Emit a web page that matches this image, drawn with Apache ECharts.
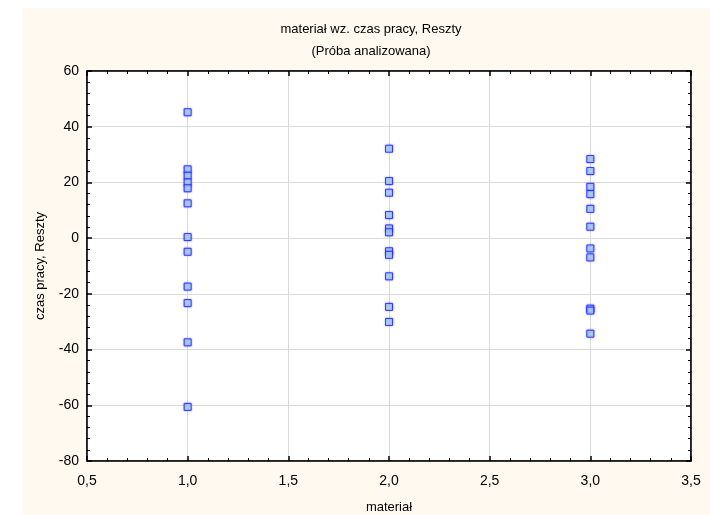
<!DOCTYPE html>
<html>
<head>
<meta charset="utf-8">
<script src="https://cdn.jsdelivr.net/npm/echarts@6/dist/echarts.min.js"></script>
<style>
  html, body { margin: 0; padding: 0; background: #fff; }
  #chart { width: 710px; height: 515px; }
</style>
</head>
<body>
<div id="chart"></div>
<script>
// Residuals (czas pracy) for each material level
var materialLevels = [1.0, 2.0, 3.0];
var residualsM1 = [45.2, 24.7, 22.4, 20.0, 17.9, 12.5, 0.4, -4.9, -17.4, -23.3, -37.4, -60.6];
var residualsM2 = [32.1, 20.5, 16.3, 8.3, 3.5, 2.1, -4.7, -6.0, -13.7, -24.7, -30.1];
var residualsM3 = [28.4, 24.1, 18.4, 15.8, 10.5, 4.1, -3.7, -6.9, -25.3, -26.0, -34.3];
var xTicks = [0.5, 1.0, 1.5, 2.0, 2.5, 3.0, 3.5];
var yTicks = [-80, -60, -40, -20, 0, 20, 40, 60];

var groups = [residualsM1, residualsM2, residualsM3];
var points = [];
groups.forEach(function (vals, i) {
  vals.forEach(function (v) { points.push([materialLevels[i], v]); });
});

var font = 'Liberation Sans, Arial, sans-serif';
var chart = echarts.init(document.getElementById('chart'), null, { renderer: 'canvas' });

function commaFmt(digits) {
  return function (v) { return v.toFixed(digits).replace('.', ','); };
}

function frameAxis() {
  return {
    axisLine: { show: true, onZero: false, lineStyle: { color: '#000', width: 1.5 } },
    axisTick: { show: true, inside: true, length: 5, lineStyle: { color: '#000', width: 1.5 } },
    minorTick: { show: true, splitNumber: 5, length: 3, lineStyle: { color: '#000', width: 1 } }
  };
}

chart.setOption({
  backgroundColor: '#fff',
  animation: false,
  graphic: [{
    type: 'rect', z: -10, silent: true,
    shape: { x: 23, y: 8, width: 687, height: 507 },
    style: { fill: '#fff9ef' }
  }],
  title: [{
    text: 'materiał wz. czas pracy, Reszty',
    left: 366, top: 18, textAlign: 'center',
    textStyle: { fontFamily: font, fontSize: 13, fontWeight: 'normal', color: '#000' }
  }, {
    text: '(Próba analizowana)',
    left: 366, top: 40, textAlign: 'center',
    textStyle: { fontFamily: font, fontSize: 13, fontWeight: 'normal', color: '#000' }
  }],
  grid: {
    left: 87, top: 71, right: 19, bottom: 54,
    containLabel: false, outerBoundsMode: 'none',
    show: true, backgroundColor: '#fff', borderColor: '#000', borderWidth: 1
  },
  xAxis: [Object.assign({
    type: 'value', min: xTicks[0], max: xTicks[xTicks.length - 1], interval: 0.5,
    position: 'bottom',
    name: 'materiał', nameLocation: 'middle', nameGap: 40,
    nameTextStyle: { fontFamily: font, fontSize: 13, color: '#000' },
    axisLabel: { fontFamily: font, fontSize: 14, color: '#000', margin: 13, formatter: commaFmt(1) },
    splitLine: { show: true, lineStyle: { color: '#d9d9d9', width: 1 } }
  }, frameAxis()), Object.assign({
    type: 'value', min: xTicks[0], max: xTicks[xTicks.length - 1], interval: 0.5,
    position: 'top', axisLabel: { show: false }, splitLine: { show: false }
  }, frameAxis())],
  yAxis: [Object.assign({
    type: 'value', min: yTicks[0], max: yTicks[yTicks.length - 1], interval: 20,
    position: 'left',
    name: 'czas pracy, Reszty', nameLocation: 'middle', nameGap: 40,
    nameTextStyle: { fontFamily: font, fontSize: 13, color: '#000' },
    axisLabel: { fontFamily: font, fontSize: 14, color: '#000', margin: 8 },
    splitLine: { show: true, lineStyle: { color: '#d9d9d9', width: 1 } }
  }, frameAxis()), Object.assign({
    type: 'value', min: yTicks[0], max: yTicks[yTicks.length - 1], interval: 20,
    position: 'right', axisLabel: { show: false }, splitLine: { show: false }
  }, frameAxis())],
  series: [{
    type: 'scatter',
    xAxisIndex: 0, yAxisIndex: 0,
    data: points,
    symbol: 'rect',
    symbolSize: 7,
    itemStyle: {
      color: '#add8e6', borderColor: '#1f1fff', borderWidth: 1,
      shadowBlur: 2, shadowColor: 'rgba(60,60,255,0.6)'
    }
  }]
});
</script>
</body>
</html>
